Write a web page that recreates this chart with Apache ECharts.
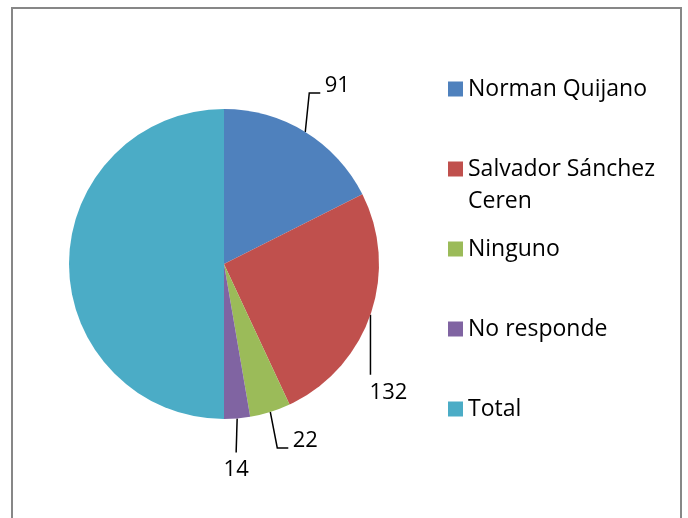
<!DOCTYPE html>
<html>
<head>
<meta charset="utf-8">
<script src="https://cdn.jsdelivr.net/npm/echarts@6/dist/echarts.min.js"></script>
<style>
  html, body { margin: 0; padding: 0; background: #fff; }
  #main { width: 688px; height: 518px; }
</style>
</head>
<body>
<div id="main"></div>
<script>
// datos del gráfico
const names = ['Norman Quijano', 'Salvador Sánchez Ceren', 'Ninguno', 'No responde', 'Total'];
const values = [91, 132, 22, 14, 259];
const colors = ['#4F81BD', '#C0504D', '#9BBB59', '#8064A2', '#4BACC6'];

const cx = 224, cy = 264, r = 155;
const fontFam = '"Open Sans", sans-serif';

// desplazamientos de etiquetas (relativos al borde del sector)
const labelOffsets = [[32, -46], [18, 78], [35, 29], [-1, 51], [0, -142]];
const linePaths = [
  [[0, 0], [4, -39], [15, -39]],
  [[0, 0], [0, 60]],
  [[0, 0], [7, 36], [18, 36]],
  [[0, 0], [-1, 34]],
  null
];
const legendCenters = [89, 169, 249, 329, 409];

const total = values.reduce((a, b) => a + b, 0);
const midAngles = [];
let acc = 0;
values.forEach(v => {
  midAngles.push((acc + v / 2) / total * Math.PI * 2);
  acc += v;
});

const chart = echarts.init(document.getElementById('main'));

// una leyenda por elemento; la de dos líneas lleva una línea vacía arriba
const legends = names.map((n, i) => {
  const twoLines = i === 1;
  return {
    data: [n],
    orient: 'vertical',
    left: 448,
    top: twoLines ? legendCenters[i] - 48 : legendCenters[i] - 16,
    padding: 0,
    itemWidth: 15,
    itemHeight: 15,
    itemGap: 0,
    icon: 'rect',
    selectedMode: false,
    formatter: twoLines ? ' \nSalvador Sánchez\nCeren' : '{name}',
    textStyle: {
      fontFamily: fontFam,
      fontSize: 23,
      color: '#000',
      lineHeight: 32
    }
  };
});

chart.setOption({
  animation: false,
  color: colors,
  graphic: [{
    type: 'rect',
    shape: { x: 12, y: 8, width: 669, height: 540 },
    style: { fill: 'none', stroke: '#878787', lineWidth: 2 },
    silent: true
  }],
  legend: legends,
  series: [{
    type: 'pie',
    center: [cx, cy],
    radius: r,
    startAngle: 90,
    clockwise: true,
    silent: true,
    itemStyle: { borderWidth: 0 },
    label: {
      show: true,
      position: 'outside',
      formatter: '{c}',
      fontFamily: fontFam,
      fontSize: 22,
      color: '#000'
    },
    labelLine: {
      show: true,
      lineStyle: { color: '#000', width: 1.5 }
    },
    labelLayout: function (params) {
      const i = params.dataIndex;
      const a = midAngles[i];
      const px = cx + r * Math.sin(a);
      const py = cy - r * Math.cos(a);
      const out = {
        x: px + labelOffsets[i][0],
        y: py + labelOffsets[i][1],
        align: 'center',
        verticalAlign: 'middle'
      };
      if (linePaths[i]) {
        out.labelLinePoints = linePaths[i].map(p => [px + p[0], py + p[1]]);
      }
      return out;
    },
    data: names.map((n, i) => ({
      name: n,
      value: values[i],
      labelLine: { show: linePaths[i] !== null }
    }))
  }]
});
</script>
</body>
</html>
